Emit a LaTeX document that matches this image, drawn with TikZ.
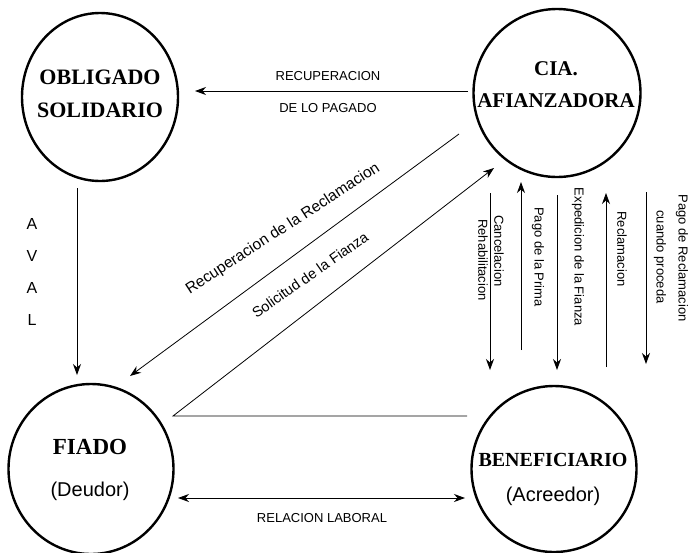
\documentclass[tikz,border=0pt]{standalone}
\usepackage{fontspec}
\setmainfont{Liberation Serif}
\setsansfont{Liberation Sans}
\usetikzlibrary{arrows.meta,shapes.geometric}
\begin{document}
\begin{tikzpicture}[x=1pt,y=-1pt,
  ent/.style={draw, line width=2.4pt, ellipse, inner sep=0pt},
  arr/.style={line width=0.8pt, -{Stealth[length=11pt,width=8pt,inset=3.5pt]}},
  darr/.style={line width=0.8pt, {Stealth[length=11pt,width=8pt,inset=3.5pt]}-{Stealth[length=11pt,width=8pt,inset=3.5pt]}},
  plain/.style={line width=0.8pt},
  lbl/.style={font=\sffamily\fontsize{13}{15}\selectfont, inner sep=0pt},
  vlbl/.style={lbl, rotate=-90},
  ttl/.style={font=\bfseries\fontsize{21}{24}\selectfont, inner sep=0pt, anchor=base},
  sub/.style={font=\sffamily\fontsize{20}{24}\selectfont, inner sep=0pt, anchor=base}]
\useasboundingbox (0,0) rectangle (690,552);

% entities
\node[ent, minimum width=156pt, minimum height=168pt] (obl) at (100,97) {};
\node[ent, minimum width=167pt, minimum height=168pt] (cia) at (557,93) {};
\node[ent, minimum width=165pt, minimum height=170pt] (fia) at (91,469) {};
\node[ent, minimum width=165pt, minimum height=166pt] (ben) at (554,469) {};

\node[ttl, font=\bfseries\fontsize{22}{24}\selectfont] (oblA) at (100,84.3) {OBLIGADO};
\node[ttl, font=\bfseries\fontsize{22}{24}\selectfont] (oblB) at (100,117.3) {SOLIDARIO};
\node[ttl] (ciaA) at (556,75) {CIA.};
\node[ttl] (ciaB) at (556,107) {AFIANZADORA};
\node[ttl, font=\bfseries\fontsize{23}{26}\selectfont] (fiaA) at (90,454.6) {FIADO};
\node[sub] (fiaB) at (90,496) {(Deudor)};
\node[ttl, font=\bfseries\fontsize{20}{24}\selectfont] (benA) at (553,466.6) {BENEFICIARIO};
\node[sub] (benB) at (553,501) {(Acreedor)};

% endpoints
\coordinate (recS) at (468,91);
\coordinate (recE) at (195,91);
\coordinate (avS) at (77,188);
\coordinate (avE) at (77,375);
\coordinate (rrS) at (459,134);
\coordinate (rrE) at (130,376);
\coordinate (soB) at (467,416);
\coordinate (soC) at (173,416);
\coordinate (soE) at (494,168);
\coordinate (rlL) at (178,498);
\coordinate (rlR) at (465,498);
\coordinate (v1S) at (490,193);  \coordinate (v1E) at (490,370);
\coordinate (v2S) at (521,350);  \coordinate (v2E) at (521,182);
\coordinate (v3S) at (557,195);  \coordinate (v3E) at (557,370);
\coordinate (v4S) at (606,367);  \coordinate (v4E) at (606,193);
\coordinate (v5S) at (646,192);  \coordinate (v5E) at (646,364);

% connectors
\draw[arr] (recS) -- (recE);
\draw[arr] (avS) -- (avE);
\draw[arr] (rrS) -- (rrE);
\draw[arr] (soB) -- (soC) -- (soE);
\draw[darr] (rlL) -- (rlR);
\draw[arr] (v1S) -- (v1E);
\draw[arr] (v2S) -- (v2E);
\draw[arr] (v3S) -- (v3E);
\draw[arr] (v4S) -- (v4E);
\draw[arr] (v5S) -- (v5E);

% labels
\node[lbl, anchor=base] (t1) at (328,80.7) {RECUPERACION};
\node[lbl, anchor=base] (t2) at (328,112.7) {DE LO PAGADO};
\node[lbl, anchor=base] (t3) at (322,522.7) {RELACION LABORAL};
\node[lbl, font=\sffamily\fontsize{16}{18}\selectfont, anchor=base] (a1) at (32,229) {A};
\node[lbl, font=\sffamily\fontsize{16}{18}\selectfont, anchor=base] (a2) at (32,261) {V};
\node[lbl, font=\sffamily\fontsize{16}{18}\selectfont, anchor=base] (a3) at (32,293) {A};
\node[lbl, font=\sffamily\fontsize{16}{18}\selectfont, anchor=base] (a4) at (32,325) {L};
\node[lbl, font=\sffamily\fontsize{15.5}{17}\selectfont, rotate=33] (d1) at (283,229) {Recuperacion de la Reclamacion};
\node[lbl, font=\sffamily\fontsize{14.5}{16}\selectfont, rotate=35] (d2) at (310,275) {Solicitud de la Fianza};
\node[vlbl] (c1) at (499,251) {Cancelacion};
\node[vlbl] (c2) at (483,260) {Rehabilitacion};
\node[vlbl] (c3) at (538,257) {Pago de la Prima};
\node[vlbl] (c4) at (578,257) {Expedicion de la Fianza};
\node[vlbl] (c5) at (622,249) {Reclamacion};
\node[vlbl] (c6) at (682,258) {Pago de Reclamacion};
\node[vlbl] (c7) at (660,257) {cuando proceda};
\end{tikzpicture}
\end{document}
